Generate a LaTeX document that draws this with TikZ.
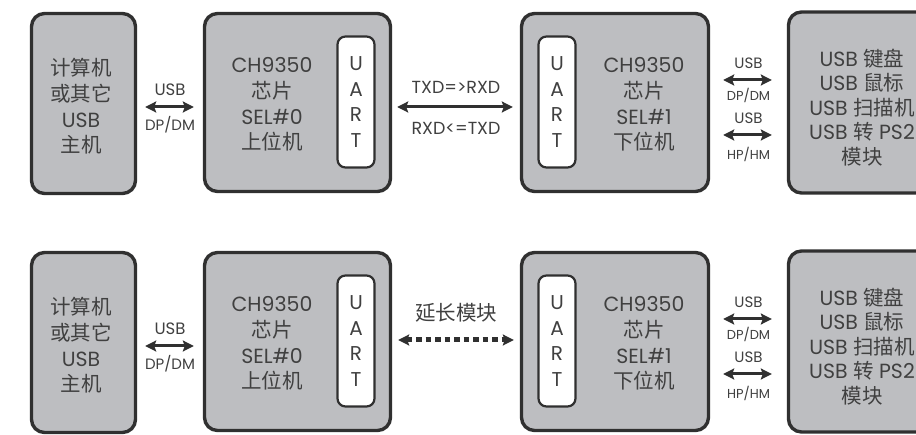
\documentclass[tikz,border=0pt]{standalone}
\usepackage{fontspec}
\usepackage{tikz}
\setmainfont{Poppins}
\newfontfamily\cjk{Noto Sans CJK SC}
\usetikzlibrary{arrows.meta}
\usetikzlibrary{positioning}
\definecolor{mgray}{RGB}{189,190,193}
\definecolor{mdark}{RGB}{48,48,48}
\definecolor{mtext}{RGB}{64,64,64}
\tikzset{blk/.style = {draw = mdark, fill = mgray, line width = 3.4, rounded corners = 13, inner sep = 0}}
\tikzset{uart/.style = {draw = mdark, fill = white, line width = 2.2, rounded corners = 8, inner sep = 0,
                        minimum width = 37, minimum height = 131, text = mtext, align = center,
                        font = \fontsize{20}{25.5}\selectfont}}
\tikzset{txt/.style = {text = mtext, align = center, inner sep = 0, font = \fontsize{20.5}{25.7}\selectfont}}
\tikzset{lbl/.style = {text = mtext, inner sep = 0, font = \fontsize{15}{16}\selectfont}}
\tikzset{arr/.style = {{Stealth[length=11pt, width=11pt, inset=2pt]}-{Stealth[length=11pt, width=11pt, inset=2pt]},
                       line width = 3, draw = mdark}}
\tikzset{dsh/.style = {arr, line width = 5, dash pattern = on 5.5pt off 4pt}}

\begin{document}
\begin{tikzpicture}[x=1pt, y=-1pt]
  \useasboundingbox (0,0) rectangle (916,435);
  \clip (0,0) rectangle (916,435);
  \foreach \r/\dy in {1/0, 2/239}{
    % boxes
    \node [blk, minimum width = 104, minimum height = 180] (host\r) at (83.5, 103.5+\dy) {};
    \node [blk, minimum width = 186, minimum height = 178] (chipA\r) at (297.5, 102.5+\dy) {};
    \node [blk, minimum width = 187, minimum height = 178] (chipB\r) at (615, 102.5+\dy) {};
    \node [blk, minimum width = 165, minimum height = 181] (dev\r) at (871, 102.5+\dy) {};
    \node [uart] (uartA\r) at (356, 102+\dy) {U\\A\\R\\T};
    \node [uart] (uartB\r) at (557, 102+\dy) {U\\A\\R\\T};
    % texts
    \node [txt] (hostlbl\r) at (81, 106.5+\dy) {{\cjk 计算机}\\{\cjk 或其它}\\USB\\{\cjk 主机}};
    \node [txt] (chipAlbl\r) at (272, 104.5+\dy) {CH9350\\{\cjk 芯片}\\SEL\#0\\{\cjk 上位机}};
    \node [txt] (chipBlbl\r) at (644, 104.5+\dy) {CH9350\\{\cjk 芯片}\\SEL\#1\\{\cjk 下位机}};
    \node [txt, font = \fontsize{20.5}{24.5}\selectfont] (devlbl\r) at (862, 107.5+\dy)
      {USB {\cjk 键盘}\\USB {\cjk 鼠标}\\USB {\cjk 扫描机}\\USB {\cjk 转} PS2\\{\cjk 模块}};
    % connectors
    \draw [arr, shorten <= 8pt, shorten >= 9pt] (host\r.east |- 0,107+\dy) --
      node [lbl, font = \fontsize{16.5}{18}\selectfont, yshift = 17pt] (usbH\r) {USB}
      node [lbl, yshift = -18pt] (dpH\r) {DP/DM} (chipA\r.west |- 0,107+\dy);
    \draw [arr, shorten <= 13pt, shorten >= 15pt] (chipB\r.east |- 0,80+\dy) --
      node [lbl, yshift = 17pt] (usbD\r) {USB}
      node [lbl, font = \fontsize{13}{14}\selectfont, yshift = -15pt] (dpD\r) {DP/DM} (dev\r.west |- 0,80+\dy);
    \draw [arr, shorten <= 13pt, shorten >= 15pt] (chipB\r.east |- 0,135+\dy) --
      node [lbl, yshift = 17pt] (usbE\r) {USB}
      node [lbl, font = \fontsize{13}{14}\selectfont, yshift = -19pt] (hpD\r) {HP/HM} (dev\r.west |- 0,135+\dy);
  }
  \draw [arr, shorten <= 5pt, shorten >= 7pt] (chipA1.east |- 0,107) --
    node [lbl, font = \fontsize{17.5}{18}\selectfont, yshift = 20pt] (txd) {TXD=>RXD}
    node [lbl, font = \fontsize{17.5}{18}\selectfont, yshift = -21pt] (rxd) {RXD<=TXD} (chipB1.west |- 0,107);
  \draw [dsh, shorten <= 6pt, shorten >= 6pt] (chipA2.east |- 0,340) --
    node [txt, yshift = 27pt] (ext) {\cjk 延长模块} (chipB2.west |- 0,340);
\end{tikzpicture}
\end{document}
